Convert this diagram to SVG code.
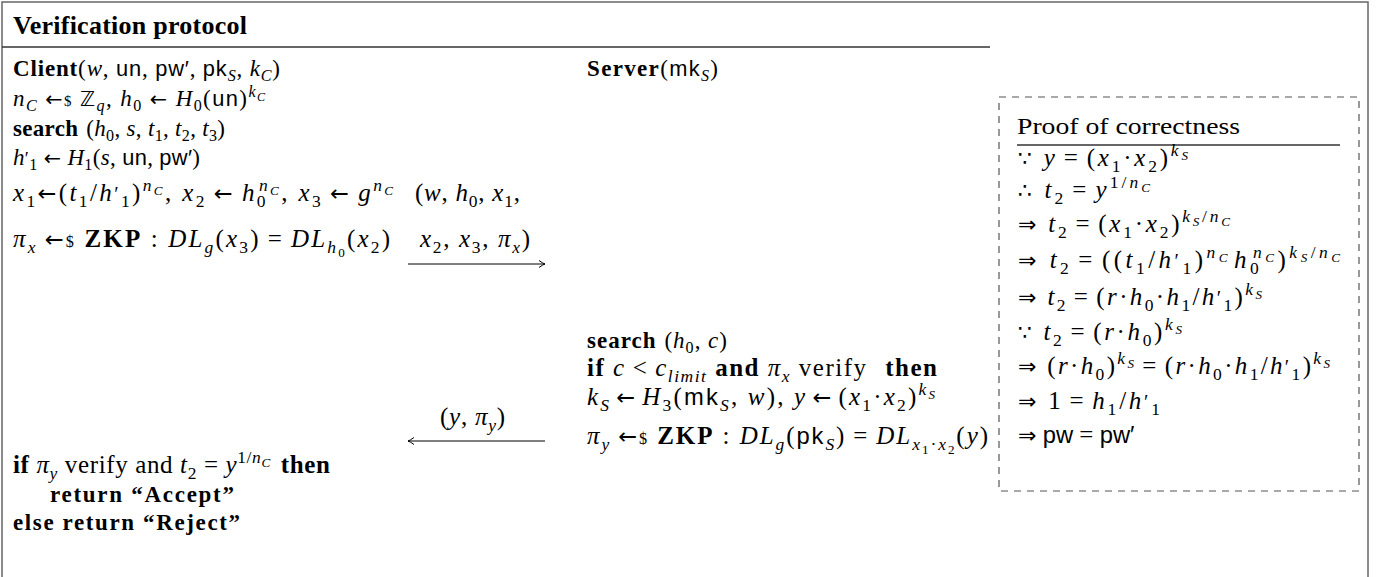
<svg xmlns="http://www.w3.org/2000/svg" width="1377" height="577" viewBox="0 0 1377 577">
<style>
text{font-family:"Liberation Serif","DejaVu Serif",serif;font-size:23px;fill:#000}
.m{font-size:25px}
.pf{font-size:25px}
.i{font-style:italic}
.b{font-weight:bold}
.sf{font-family:"Liberation Sans","DejaVu Sans",sans-serif;font-size:95%}
.sup{font-size:70%;baseline-shift:0.56em}
.sub{font-size:70%;baseline-shift:-0.33em}
.ss{font-size:75%;baseline-shift:-0.3em}
.dol{font-size:65%}
.pr{font-size:80%}
.sym{font-family:"DejaVu Sans",sans-serif;font-size:88%}
.ar{font-family:"DejaVu Sans",sans-serif;font-size:90%}
.ttl{font-size:26px;font-weight:bold}
.frame{fill:none;stroke:#666;stroke-width:1.5}
.rule{stroke:#333;stroke-width:1.3}
.conn{stroke:#000;stroke-width:1;fill:none;marker-end:url(#ah)}
</style>
<defs>
<marker id="ah" viewBox="-8 -5 10 10" refX="0" refY="0" markerWidth="10" markerHeight="10" markerUnits="userSpaceOnUse" orient="auto">
<path d="M-6,-3.5 Q-2,-0.6 0,0 Q-2,0.6 -6,3.5" fill="none" stroke="#000" stroke-width="1"/>
</marker>
</defs>
<rect width="1377" height="577" fill="#fff"/>
<rect class="frame" x="2" y="2" width="1366" height="600"/>

<g id="title">
<text class="ttl" x="13" y="34" textLength="234" lengthAdjust="spacing">Verification protocol</text>
<line class="rule" x1="2" y1="47" x2="990" y2="47"/>
</g>

<g id="client">
<text x="13" y="76" textLength="267" lengthAdjust="spacing"><tspan class="b">Client</tspan>(<tspan class="i">w</tspan>, <tspan class="sf">un</tspan>, <tspan class="sf">pw′</tspan>, <tspan class="sf">pk</tspan><tspan class="sub i">S</tspan>, <tspan class="i">k</tspan><tspan class="sub i">C</tspan>)</text>
<text x="13" y="106" textLength="252" lengthAdjust="spacing"><tspan class="i">n</tspan><tspan class="sub i">C</tspan> <tspan class="ar">←</tspan><tspan class="dol">$</tspan> <tspan class="sym">ℤ</tspan><tspan class="sub i">q</tspan>, <tspan class="i">h</tspan><tspan class="sub">0</tspan> <tspan class="ar">←</tspan> <tspan class="i">H</tspan><tspan class="sub">0</tspan>(<tspan class="sf">un</tspan>)<tspan class="sup"><tspan class="i">k</tspan><tspan class="ss i">C</tspan></tspan></text>
<text x="13" y="136" textLength="212" lengthAdjust="spacing"><tspan class="b">search</tspan><tspan dx="8">(</tspan><tspan class="i">h</tspan><tspan class="sub">0</tspan>, <tspan class="i">s</tspan>, <tspan class="i">t</tspan><tspan class="sub">1</tspan>, <tspan class="i">t</tspan><tspan class="sub">2</tspan>, <tspan class="i">t</tspan><tspan class="sub">3</tspan>)</text>
<text x="13" y="165" textLength="187" lengthAdjust="spacing"><tspan class="i">h</tspan><tspan class="pr">′</tspan><tspan class="sub">1</tspan> <tspan class="ar">←</tspan> <tspan class="i">H</tspan><tspan class="sub">1</tspan>(<tspan class="i">s</tspan>, <tspan class="sf">un</tspan>, <tspan class="sf">pw′</tspan>)</text>
<text class="m" x="13" y="201" textLength="380" lengthAdjust="spacing"><tspan class="i">x</tspan><tspan class="sub">1</tspan><tspan class="ar">←</tspan>(<tspan class="i">t</tspan><tspan class="sub">1</tspan>/<tspan class="i">h</tspan><tspan class="pr">′</tspan><tspan class="sub">1</tspan>)<tspan class="sup"><tspan class="i">n</tspan><tspan class="ss i">C</tspan></tspan>, <tspan class="i">x</tspan><tspan class="sub">2</tspan><tspan class="ar" dx="7">←</tspan><tspan class="i" dx="7">h</tspan><tspan class="sub">0</tspan><tspan class="sup" dx="-9"><tspan class="i">n</tspan><tspan class="ss i">C</tspan></tspan>, <tspan class="i">x</tspan><tspan class="sub">3</tspan><tspan class="ar" dx="7">←</tspan><tspan class="i" dx="7">g</tspan><tspan class="sup"><tspan class="i">n</tspan><tspan class="ss i">C</tspan></tspan></text>
<text class="m" x="13" y="247" textLength="377" lengthAdjust="spacing"><tspan class="i">π</tspan><tspan class="sub i">x</tspan><tspan class="ar" dx="7">←</tspan><tspan class="dol">$</tspan> <tspan class="b">ZKP</tspan> : <tspan class="i">DL</tspan><tspan class="sub i">g</tspan>(<tspan class="i">x</tspan><tspan class="sub">3</tspan>)<tspan dx="7">=</tspan><tspan class="i" dx="7">DL</tspan><tspan class="sub"><tspan class="i">h</tspan><tspan class="ss">0</tspan></tspan>(<tspan class="i">x</tspan><tspan class="sub">2</tspan>)</text>
<text class="m" x="13" y="473" textLength="317" lengthAdjust="spacing"><tspan class="b">if</tspan> <tspan class="i">π</tspan><tspan class="sub i">y</tspan> verify and <tspan class="i">t</tspan><tspan class="sub">2</tspan> = <tspan class="i">y</tspan><tspan class="sup">1/<tspan class="i">n</tspan><tspan class="ss i">C</tspan></tspan><tspan class="b" dx="10">then</tspan></text>
<text class="b" x="50" y="502" textLength="184" lengthAdjust="spacing">return “Accept”</text>
<text class="b" x="13" y="530" textLength="227" lengthAdjust="spacing">else return “Reject”</text>
</g>

<g id="server">
<text x="587" y="76" textLength="131" lengthAdjust="spacing"><tspan class="b">Server</tspan>(<tspan class="sf">mk</tspan><tspan class="sub i">S</tspan>)</text>
<text x="587" y="348" textLength="140" lengthAdjust="spacing"><tspan class="b">search</tspan><tspan dx="8">(</tspan><tspan class="i">h</tspan><tspan class="sub">0</tspan>, <tspan class="i">c</tspan>)</text>
<text class="m" x="587" y="376" textLength="350" lengthAdjust="spacing"><tspan class="b">if</tspan> <tspan class="i">c</tspan><tspan dx="7">&lt;</tspan><tspan class="i" dx="7">c</tspan><tspan class="sub i">limit</tspan> <tspan class="b">and</tspan> <tspan class="i">π</tspan><tspan class="sub i">x</tspan> verify <tspan class="b" dx="10">then</tspan></text>
<text class="m" x="587" y="405" textLength="348" lengthAdjust="spacing"><tspan class="i">k</tspan><tspan class="sub i">S</tspan><tspan class="ar" dx="5">←</tspan><tspan class="i" dx="5">H</tspan><tspan class="sub">3</tspan>(<tspan class="sf">mk</tspan><tspan class="sub i">S</tspan>, <tspan class="i">w</tspan>), <tspan class="i">y</tspan><tspan class="ar" dx="5">←</tspan><tspan dx="5">(</tspan><tspan class="i">x</tspan><tspan class="sub">1</tspan>·<tspan class="i">x</tspan><tspan class="sub">2</tspan>)<tspan class="sup"><tspan class="i">k</tspan><tspan class="ss i">S</tspan></tspan></text>
<text class="m" x="587" y="444" textLength="401" lengthAdjust="spacing"><tspan class="i">π</tspan><tspan class="sub i">y</tspan><tspan class="ar" dx="7">←</tspan><tspan class="dol">$</tspan> <tspan class="b">ZKP</tspan> : <tspan class="i">DL</tspan><tspan class="sub i">g</tspan>(<tspan class="sf">pk</tspan><tspan class="sub i">S</tspan>)<tspan dx="7">=</tspan><tspan class="i" dx="7">DL</tspan><tspan class="sub"><tspan class="i">x</tspan><tspan class="ss">1</tspan>·<tspan class="i">x</tspan><tspan class="ss">2</tspan></tspan>(<tspan class="i">y</tspan>)</text>
</g>

<g id="messages">
<text class="m" x="415" y="201" textLength="105" lengthAdjust="spacing">(<tspan class="i">w</tspan>, <tspan class="i">h</tspan><tspan class="sub">0</tspan>, <tspan class="i">x</tspan><tspan class="sub">1</tspan>,</text>
<text class="m" x="420" y="247" textLength="110" lengthAdjust="spacing"><tspan class="i">x</tspan><tspan class="sub">2</tspan>, <tspan class="i">x</tspan><tspan class="sub">3</tspan>, <tspan class="i">π</tspan><tspan class="sub i">x</tspan>)</text>
<text class="m" x="440" y="425" textLength="65" lengthAdjust="spacing">(<tspan class="i">y</tspan>, <tspan class="i">π</tspan><tspan class="sub i">y</tspan>)</text>
</g>

<g id="connectors">
<line class="conn" x1="408" y1="264" x2="545" y2="264"/>
<line class="conn" x1="545" y1="441" x2="408" y2="441"/>
</g>

<g id="proof">
<rect x="999" y="97" width="360" height="394" fill="none" stroke="#555" stroke-width="1.2" stroke-dasharray="7,6"/>
<text x="1017" y="134" font-size="28" textLength="223" lengthAdjust="spacingAndGlyphs">Proof of correctness</text>
<line class="rule" x1="1017" y1="145" x2="1340" y2="145"/>
<text class="pf" x="1018" y="166" textLength="170" lengthAdjust="spacing"><tspan class="sym">∵</tspan> <tspan class="i">y</tspan><tspan dx="6">=</tspan><tspan dx="6">(</tspan><tspan class="i">x</tspan><tspan class="sub">1</tspan>·<tspan class="i">x</tspan><tspan class="sub">2</tspan>)<tspan class="sup"><tspan class="i">k</tspan><tspan class="ss i">S</tspan></tspan></text>
<text class="pf" x="1018" y="198" textLength="132" lengthAdjust="spacing"><tspan class="sym">∴</tspan> <tspan class="i">t</tspan><tspan class="sub">2</tspan><tspan dx="6">=</tspan><tspan class="i" dx="6">y</tspan><tspan class="sup">1/<tspan class="i">n</tspan><tspan class="ss i">C</tspan></tspan></text>
<text class="pf" x="1018" y="232" textLength="212" lengthAdjust="spacing"><tspan class="sym">⇒</tspan> <tspan class="i">t</tspan><tspan class="sub">2</tspan><tspan dx="6">=</tspan><tspan dx="6">(</tspan><tspan class="i">x</tspan><tspan class="sub">1</tspan>·<tspan class="i">x</tspan><tspan class="sub">2</tspan>)<tspan class="sup"><tspan class="i">k</tspan><tspan class="ss i">S</tspan>/<tspan class="i">n</tspan><tspan class="ss i">C</tspan></tspan></text>
<text class="pf" x="1018" y="268" textLength="322" lengthAdjust="spacing"><tspan class="sym">⇒</tspan> <tspan class="i">t</tspan><tspan class="sub">2</tspan><tspan dx="6">=</tspan><tspan dx="6">((</tspan><tspan class="i">t</tspan><tspan class="sub">1</tspan>/<tspan class="i">h</tspan><tspan class="pr">′</tspan><tspan class="sub">1</tspan>)<tspan class="sup"><tspan class="i">n</tspan><tspan class="ss i">C</tspan></tspan><tspan class="i" dx="3">h</tspan><tspan class="sub">0</tspan><tspan class="sup" dx="-9"><tspan class="i">n</tspan><tspan class="ss i">C</tspan></tspan>)<tspan class="sup"><tspan class="i">k</tspan><tspan class="ss i">S</tspan>/<tspan class="i">n</tspan><tspan class="ss i">C</tspan></tspan></text>
<text class="pf" x="1018" y="305" textLength="244" lengthAdjust="spacing"><tspan class="sym">⇒</tspan> <tspan class="i">t</tspan><tspan class="sub">2</tspan><tspan dx="6">=</tspan><tspan dx="6">(</tspan><tspan class="i">r</tspan>·<tspan class="i">h</tspan><tspan class="sub">0</tspan>·<tspan class="i">h</tspan><tspan class="sub">1</tspan>/<tspan class="i">h</tspan><tspan class="pr">′</tspan><tspan class="sub">1</tspan>)<tspan class="sup"><tspan class="i">k</tspan><tspan class="ss i">S</tspan></tspan></text>
<text class="pf" x="1018" y="340" textLength="164" lengthAdjust="spacing"><tspan class="sym">∵</tspan> <tspan class="i">t</tspan><tspan class="sub">2</tspan><tspan dx="6">=</tspan><tspan dx="6">(</tspan><tspan class="i">r</tspan>·<tspan class="i">h</tspan><tspan class="sub">0</tspan>)<tspan class="sup"><tspan class="i">k</tspan><tspan class="ss i">S</tspan></tspan></text>
<text class="pf" x="1018" y="374" textLength="312" lengthAdjust="spacing"><tspan class="sym">⇒</tspan> (<tspan class="i">r</tspan>·<tspan class="i">h</tspan><tspan class="sub">0</tspan>)<tspan class="sup"><tspan class="i">k</tspan><tspan class="ss i">S</tspan></tspan><tspan dx="6">=</tspan><tspan dx="6">(</tspan><tspan class="i">r</tspan>·<tspan class="i">h</tspan><tspan class="sub">0</tspan>·<tspan class="i">h</tspan><tspan class="sub">1</tspan>/<tspan class="i">h</tspan><tspan class="pr">′</tspan><tspan class="sub">1</tspan>)<tspan class="sup"><tspan class="i">k</tspan><tspan class="ss i">S</tspan></tspan></text>
<text class="pf" x="1018" y="409" textLength="142" lengthAdjust="spacing"><tspan class="sym">⇒</tspan> 1<tspan dx="6">=</tspan><tspan class="i" dx="6">h</tspan><tspan class="sub">1</tspan>/<tspan class="i">h</tspan><tspan class="pr">′</tspan><tspan class="sub">1</tspan></text>
<text class="pf" x="1018" y="443"><tspan class="sym">⇒</tspan> <tspan class="sf">pw</tspan> = <tspan class="sf">pw′</tspan></text>
</g>
</svg>
